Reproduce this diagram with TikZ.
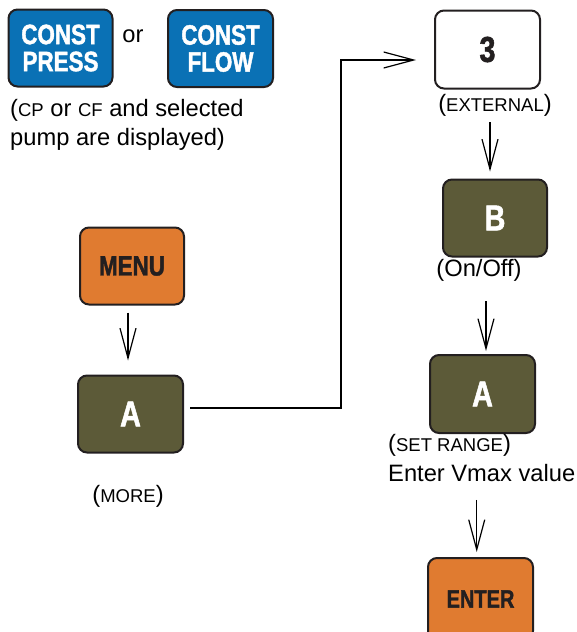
\documentclass[tikz,border=0pt]{standalone}
\usepackage{fontspec}
\setmainfont{Liberation Sans}
\newfontfamily\keyfont[FakeStretch=0.8,FakeBold=1.5]{Liberation Sans Bold}
\usetikzlibrary{arrows.meta}
\definecolor{kblue}{HTML}{0A71B5}
\definecolor{korange}{HTML}{E07B30}
\definecolor{kolive}{HTML}{5C5A38}
\definecolor{kborder}{HTML}{231F20}
\tikzset{
  key/.style={draw=kborder, line width=2pt, rounded corners=9pt,
    minimum width=104pt, minimum height=77pt, inner sep=0pt, align=center},
  keyfnt/.style={font=\keyfont\fontsize{28}{27}\selectfont},
  bluekey/.style={key, fill=kblue, text=white, keyfnt},
  orangekey/.style={key, fill=korange, text=kborder, keyfnt},
  olivekey/.style={key, fill=kolive, text=white, keyfnt},
  whitekey/.style={key, fill=white, text=kborder, keyfnt},
  bigfnt/.style={font=\keyfont\fontsize{36}{36}\selectfont},
  txt/.style={inner sep=0pt, font=\fontsize{23.7}{28}\selectfont, text=black},
  arr/.style={line width=1.2pt, -{Straight Barb[length=30pt,width=16pt,line width=1.2pt]}},
}
\newcommand{\smc}[1]{{\fontsize{18.5}{20}\selectfont #1}}
\begin{document}
\begin{tikzpicture}[x=1pt,y=-1pt]
\useasboundingbox (0,0) rectangle (577,632);
\node[bluekey] (cp) at (60.5,48) {CONST\\PRESS};
\node[txt] (or) at (133,36) {or};
\node[bluekey, minimum width=105pt] (cf) at (220.5,48.5) {CONST\\FLOW};
\node[txt, anchor=base west] (note1) at (10,116) {(\smc{CP} or \smc{CF} and selected};
\node[txt, anchor=base west] (note2) at (10,145) {pump are displayed)};

\node[orangekey] (menu) at (132,266) {MENU};
\node[olivekey, minimum width=105pt, bigfnt] (a1) at (130.5,414) {A};
\node[txt] (more) at (128,496) {(\smc{MORE})};

\node[whitekey, minimum width=105pt, minimum height=78pt, bigfnt] (three) at (487.5,49.5) {3};
\node[txt] (ext) at (495,105) {(\smc{EXTERNAL})};
\node[olivekey, bigfnt] (b) at (495,218) {B};
\node[txt] (onoff) at (479,270) {(On/Off)};
\node[olivekey, minimum width=105pt, minimum height=78pt, bigfnt] (a2) at (482.5,394) {A};
\node[txt, anchor=west] (setrange) at (388,445) {(\smc{SET RANGE})};
\node[txt, anchor=west] (vmax) at (388,473) {Enter Vmax value};
\node[orangekey, minimum width=105pt, minimum height=82pt, font=\keyfont\fontsize{25}{25}\selectfont] (enter) at (480.5,599) {ENTER};

\coordinate (m1) at ([xshift=-4pt,yshift=-7pt]menu.south);
\draw[arr] (m1) -- ([yshift=14pt]m1 |- a1.north);
\coordinate (e1) at ([xshift=-5pt,yshift=-6pt]ext.south);
\draw[arr] (e1) -- ([yshift=7pt]e1 |- b.north);
\coordinate (o1) at ([xshift=7pt,yshift=-20pt]onoff.south);
\draw[arr] (o1) -- ([yshift=3pt]o1 |- a2.north);
\coordinate (v1) at ([xshift=-5pt,yshift=-18pt]vmax.south);
\draw[arr] (v1) -- ([yshift=5pt]v1 |- enter.north);
\coordinate (s1) at ([xshift=6pt,yshift=6pt]a1.east);
\coordinate (s2) at ([xshift=-18pt,yshift=-10.5pt]three.west);
\draw[arr] (s1) -- (341,408) |- (s2);
\end{tikzpicture}
\end{document}
